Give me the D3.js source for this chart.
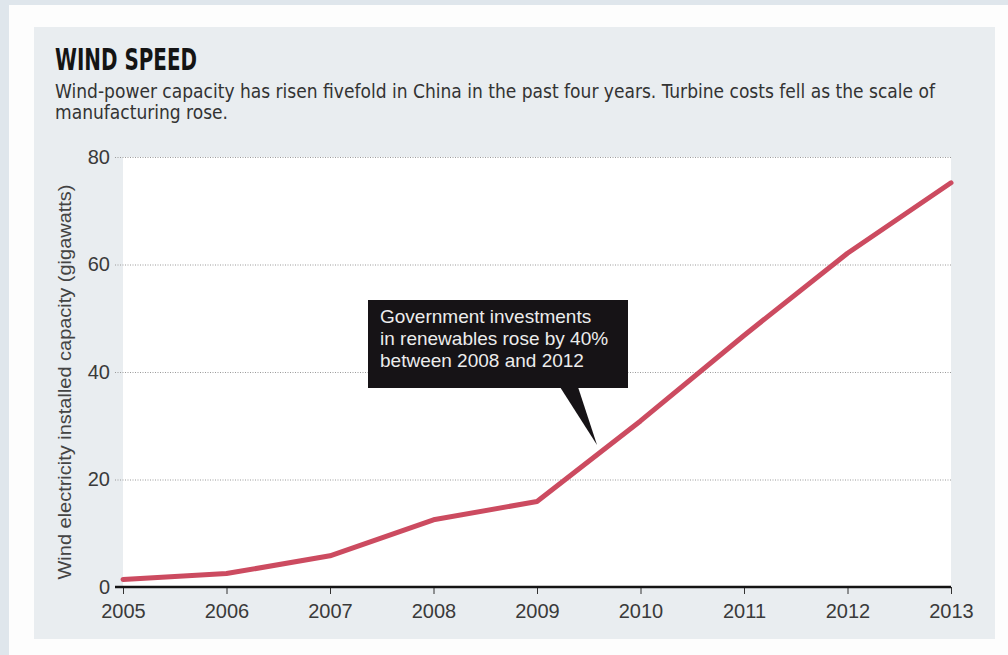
<!DOCTYPE html>
<html>
<head>
<meta charset="utf-8">
<script src="https://cdn.jsdelivr.net/npm/d3@7"></script>
<style>
  html, body { margin: 0; padding: 0; background: #dfe6ec; }
  svg { display: block; }
</style>
</head>
<body>
<div id="chart"></div>
<script>
const width = 1008,
    height = 655;

// data
var years = [2005, 2006, 2007, 2008, 2009, 2010, 2011, 2012, 2013];
var capacity = [1.4, 2.5, 5.8, 12.5, 15.9, 30.9, 46.8, 62.1, 75.2];
var yTicks = [0, 20, 40, 60, 80];
var noteLines = ["Government investments", "in renewables rose by 40%", "between 2008 and 2012"];
var noteTip = [2009.58, 26.4];

var svg = d3.select("#chart").append("svg")
    .attr("width", width)
    .attr("height", height);

// white frame + grey panel
svg.append("rect").attr("x", 9).attr("y", 5).attr("width", width - 9).attr("height", height - 5).attr("fill", "#fdfdfd");
svg.append("rect").attr("x", 34).attr("y", 27).attr("width", 961).attr("height", 612).attr("fill", "#e9edf0");

var x = d3.scaleLinear().domain([2005, 2013]).range([123, 951]);
var y = d3.scaleLinear().domain([0, 80]).range([587, 157]);

// plot area
svg.append("rect")
    .attr("x", x(2005)).attr("y", y(80))
    .attr("width", x(2013) - x(2005)).attr("height", y(0) - y(80))
    .attr("fill", "#ffffff");

var condensed = "'Liberation Sans Narrow', 'DejaVu Sans Condensed', sans-serif";

// title and subtitle
svg.append("text")
    .attr("x", 55).attr("y", 70)
    .attr("textLength", 142).attr("lengthAdjust", "spacingAndGlyphs")
    .style("font-family", condensed)
    .style("font-weight", "bold").style("font-size", "31px").style("fill", "#141414")
    .text("WIND SPEED");

var sub1 = svg.append("text")
    .attr("x", 55).attr("y", 98)
    .style("font-family", condensed)
    .style("font-size", "19px").style("fill", "#333")
    .text("Wind-power capacity has risen fivefold in China in the past four years. Turbine costs fell as the scale of");
var sub2 = svg.append("text")
    .attr("x", 55).attr("y", 119)
    .style("font-family", condensed)
    .style("font-size", "19px").style("fill", "#333")
    .text("manufacturing rose.");
// squeeze both lines by the same ratio so line one spans the panel like the original
var ratio = 880 / sub1.node().getComputedTextLength();
sub1.attr("textLength", 880).attr("lengthAdjust", "spacingAndGlyphs");
sub2.attr("textLength", sub2.node().getComputedTextLength() * ratio).attr("lengthAdjust", "spacingAndGlyphs");

// y axis with dotted grid
var yAxis = svg.append("g")
    .attr("transform", "translate(115,0)")
    .call(d3.axisLeft(y).tickValues(yTicks).tickSize(-(x(2013) - 115)).tickPadding(5));
yAxis.select(".domain").remove();
yAxis.selectAll(".tick line")
    .attr("stroke", "#9a9a9a")
    .attr("stroke-dasharray", "1,1.5")
    .filter(d => d === 0).remove();
yAxis.selectAll(".tick text")
    .style("font-family", "'Liberation Sans', Arial, sans-serif")
    .style("font-size", "20px").style("fill", "#3a3a3a");

svg.append("text")
    .attr("transform", "translate(71," + ((y(80) + y(0)) / 2 + 10) + ") rotate(-90)")
    .attr("text-anchor", "middle")
    .attr("textLength", 395).attr("lengthAdjust", "spacingAndGlyphs")
    .style("font-family", "'Liberation Sans', Arial, sans-serif")
    .style("font-size", "18px").style("fill", "#444")
    .text("Wind electricity installed capacity (gigawatts)");

// x axis
var xAxis = svg.append("g")
    .attr("transform", "translate(0," + y(0) + ")")
    .call(d3.axisBottom(x).tickValues(years).tickFormat(d3.format("d")).tickSize(7).tickPadding(10));
xAxis.select(".domain").remove();
xAxis.selectAll(".tick line").attr("stroke", "#333");
xAxis.selectAll(".tick text")
    .style("font-family", "'Liberation Sans', Arial, sans-serif")
    .style("font-size", "20px").style("fill", "#3a3a3a");

svg.append("line")
    .attr("x1", 115).attr("x2", x(2013))
    .attr("y1", y(0)).attr("y2", y(0))
    .attr("stroke", "#141414").attr("stroke-width", 2.5);

// the series
var line = d3.line()
    .x((d, i) => x(years[i]))
    .y(d => y(d));

svg.append("path")
    .datum(capacity)
    .attr("fill", "none")
    .attr("stroke", "#cc4b60")
    .attr("stroke-width", 5)
    .attr("stroke-linejoin", "round")
    .attr("stroke-linecap", "round")
    .attr("d", line);

// annotation callout
var note = svg.append("g");
note.append("rect")
    .attr("x", 368).attr("y", 300).attr("width", 260).attr("height", 88)
    .attr("fill", "#161316");
note.append("path")
    .attr("d", "M560,387 L578,387 L" + x(noteTip[0]) + "," + y(noteTip[1]) + " Z")
    .attr("fill", "#161316");
note.selectAll("text")
    .data(noteLines)
    .join("text")
    .attr("x", 380)
    .attr("y", (d, i) => 323 + i * 22)
    .style("font-family", "'Liberation Sans', Arial, sans-serif")
    .style("font-size", "19px").style("fill", "#ececec")
    .text(d => d);
</script>
</body>
</html>
